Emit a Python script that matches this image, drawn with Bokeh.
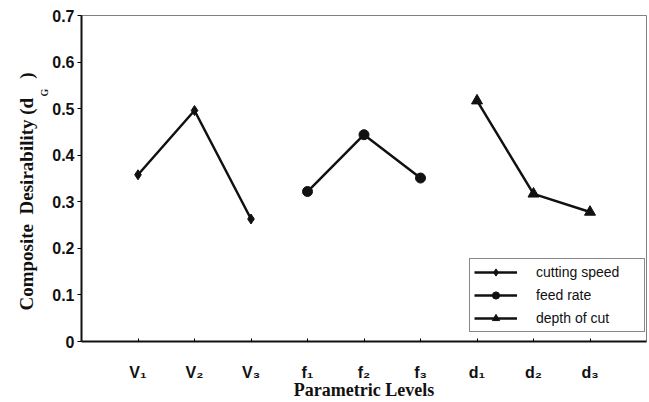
from bokeh.plotting import figure
from bokeh.models import Range1d, FixedTicker, Legend, LegendItem, Title
from bokeh.embed import file_html
from bokeh.resources import INLINE

# ---- data ----
levels_x = [1, 2, 3, 4, 5, 6, 7, 8, 9]
tick_labels = ["V\u2081", "V\u2082", "V\u2083", "f\u2081", "f\u2082", "f\u2083", "d\u2081", "d\u2082", "d\u2083"]
speed_x = [1, 2, 3]
speed_y = [0.358, 0.496, 0.263]
feed_x = [4, 5, 6]
feed_y = [0.322, 0.444, 0.351]
depth_x = [7, 8, 9]
depth_y = [0.517, 0.317, 0.278]
y_ticks = [0, 0.1, 0.2, 0.3, 0.4, 0.5, 0.6, 0.7]
y_tick_labels = ["0", "0.1", "0.2", "0.3", "0.4", "0.5", "0.6", "0.7"]

p = figure(width=649, height=402, output_backend="svg", toolbar_location=None,
           x_range=Range1d(0, 10), y_range=Range1d(0, 0.7),
           min_border_left=81, min_border_top=15, min_border_right=3, min_border_bottom=61)
p.grid.visible = False
p.outline_line_color = "#808080"
p.outline_line_width = 1
p.background_fill_color = "white"
p.border_fill_color = "white"

# x axis
xa = p.xaxis[0]
xa.ticker = FixedTicker(ticks=levels_x)
xa.major_label_overrides = {x: t for x, t in zip(levels_x, tick_labels)}
xa.axis_line_width = 2
xa.axis_line_color = "#111111"
xa.major_tick_in = 3
xa.major_tick_out = 0
xa.minor_tick_line_color = None
xa.major_label_text_font = "Liberation Sans"
xa.major_label_text_font_style = "bold"
xa.major_label_text_font_size = "16px"
xa.major_label_text_color = "#111111"
xa.major_label_standoff = 22
xa.axis_label = "Parametric Levels"
xa.axis_label_text_font = "Liberation Serif"
xa.axis_label_text_font_style = "bold"
xa.axis_label_text_font_size = "18px"
xa.axis_label_text_color = "#111111"
xa.axis_label_standoff = -4

# y axis
ya = p.yaxis[0]
ya.ticker = FixedTicker(ticks=y_ticks)
ya.major_label_overrides = {v: t for v, t in zip(y_ticks, y_tick_labels)}
ya.axis_line_width = 2
ya.axis_line_color = "#111111"
ya.major_tick_in = 0
ya.major_tick_out = 4
ya.minor_tick_line_color = None
ya.major_label_text_font = "Liberation Sans"
ya.major_label_text_font_style = "bold"
ya.major_label_text_font_size = "16px"
ya.major_label_text_color = "#111111"
ya.major_label_standoff = 3

col = "#111111"
l1 = p.line(speed_x, speed_y, line_width=2.5, line_color=col)
m1 = p.scatter(speed_x, speed_y, marker="diamond", size=10, color=col)
l2 = p.line(feed_x, feed_y, line_width=2.5, line_color=col)
m2 = p.scatter(feed_x, feed_y, marker="circle", size=10, color=col)
l3 = p.line(depth_x, depth_y, line_width=2.5, line_color=col)
m3 = p.scatter(depth_x, depth_y, marker="triangle", size=11, color=col)

legend = Legend(items=[
    LegendItem(label="cutting speed", renderers=[l1, m1]),
    LegendItem(label="feed rate", renderers=[l2, m2]),
    LegendItem(label="depth of cut", renderers=[l3, m3]),
], location=(388, 9))
legend.glyph_width = 43
legend.glyph_height = 18
legend.spacing = 5
legend.padding = 4
legend.margin = 0
legend.label_standoff = 19
legend.label_width = 104
legend.label_text_font = "Liberation Sans"
legend.label_text_font_size = "14px"
legend.label_text_color = "#111111"
legend.border_line_color = "#111111"
legend.border_line_width = 1.5
legend.background_fill_alpha = 1
p.add_layout(legend)

# y axis title as vertical titles in the left panel (subscript G in its own column)
NB = "\u00a0"
sub_g = Title(text="G", align="left", offset=245, standoff=0,
              text_font="Liberation Serif", text_font_style="bold",
              text_font_size="10px", text_color="#111111")
main_t = Title(text="Composite" + NB + " Desirability (d" + NB * 4 + ")", align="left", offset=31, standoff=0,
               text_font="Liberation Serif", text_font_style="bold",
               text_font_size="19px", text_color="#111111")
p.add_layout(sub_g, "left")
p.add_layout(main_t, "left")

open("out.html", "w").write(file_html(p, INLINE))
